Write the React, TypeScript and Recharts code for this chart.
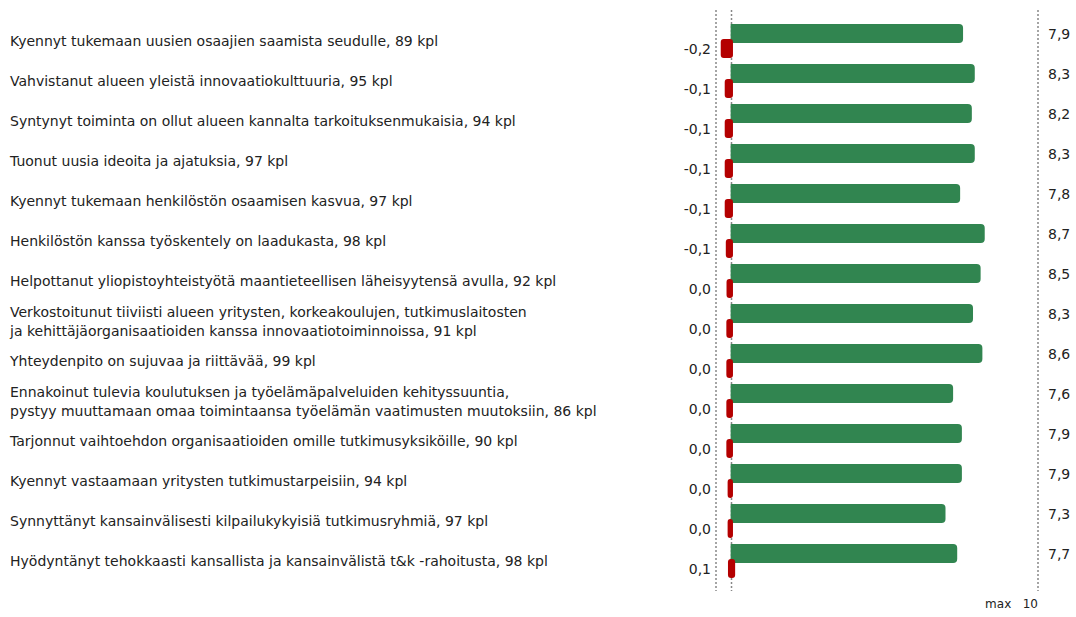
import { BarChart, Bar, XAxis, YAxis, CartesianGrid, ReferenceLine, LabelList } from 'recharts';

const statements = [
  'Kyennyt tukemaan uusien osaajien saamista seudulle, 89 kpl',
  'Vahvistanut alueen yleistä innovaatiokulttuuria, 95 kpl',
  'Syntynyt toiminta on ollut alueen kannalta tarkoituksenmukaisia, 94 kpl',
  'Tuonut uusia ideoita ja ajatuksia, 97 kpl',
  'Kyennyt tukemaan henkilöstön osaamisen kasvua, 97 kpl',
  'Henkilöstön kanssa työskentely on laadukasta, 98 kpl',
  'Helpottanut yliopistoyhteistyötä maantieteellisen läheisyytensä avulla, 92 kpl',
  'Verkostoitunut tiiviisti alueen yritysten, korkeakoulujen, tutkimuslaitosten\nja kehittäjäorganisaatioiden kanssa innovaatiotoiminnoissa, 91 kpl',
  'Yhteydenpito on sujuvaa ja riittävää, 99 kpl',
  'Ennakoinut tulevia koulutuksen ja työelämäpalveluiden kehityssuuntia,\npystyy muuttamaan omaa toimintaansa työelämän vaatimusten muutoksiin, 86 kpl',
  'Tarjonnut vaihtoehdon organisaatioiden omille tutkimusyksiköille, 90 kpl',
  'Kyennyt vastaamaan yritysten tutkimustarpeisiin, 94 kpl',
  'Synnyttänyt kansainvälisesti kilpailukykyisiä tutkimusryhmiä, 97 kpl',
  'Hyödyntänyt tehokkaasti kansallista ja kansainvälistä t&k -rahoitusta, 98 kpl',
];

const averages = [7.94, 8.34, 8.24, 8.34, 7.84, 8.68, 8.54, 8.28, 8.6, 7.6, 7.9, 7.9, 7.34, 7.74];
const changes = [-0.2, -0.09, -0.09, -0.09, -0.09, -0.06, -0.04, -0.045, -0.045, -0.045, -0.045, -0.01, -0.01, 0.06];

// dotted guide lines, in units of the average axis
const AVG_DOMAIN: [number, number] = [-0.5, 10.5];
const guides = [-0.5, 0.03, 10.5];

const data = statements.map((label, i) => ({ label, avg: averages[i], change: changes[i] }));

const W = 1076;
const H = 617;
const PLOT_LEFT = 716;
const PLOT_RIGHT = 1038;
const FONT = '"DejaVu Sans", sans-serif';
const TEXT = '#222';
const GREEN = '#318550';
const RED = '#b40000';

const fmt = (v: number) => {
  const r = Math.round(v * 10) / 10;
  return (r === 0 ? 0 : r).toFixed(1).replace('.', ',');
};

function StatementTick(props: any) {
  const { y, payload } = props;
  const lines = String(payload.value).split('\n');
  const lh = 19;
  const start = -((lines.length - 1) * lh) / 2;
  return (
    <text x={10} y={y} fill={TEXT} fontSize={14} fontFamily={FONT} textAnchor="start" dominantBaseline="central">
      {lines.map((l, i) => (
        <tspan key={i} x={10} dy={i === 0 ? start : lh}>{l}</tspan>
      ))}
    </text>
  );
}

function ChangeShape(props: any) {
  const { x, y, width, height } = props;
  const left = Math.min(x, x + width) - 2.5;
  const w = Math.abs(width) + 5;
  return <rect x={left} y={y} width={w} height={height} rx={3} ry={3} fill={RED} />;
}

const labelY = (p: any) => {
  const vb = p.viewBox ?? p;
  return (vb.y ?? p.y) + (vb.height ?? p.height) / 2;
};

function AvgLabel(props: any) {
  return (
    <text x={PLOT_RIGHT + 10} y={labelY(props)} fill={TEXT} fontSize={14} fontFamily={FONT} dominantBaseline="central">
      {fmt(Number(props.value))}
    </text>
  );
}

function ChangeLabel(props: any) {
  return (
    <text x={PLOT_LEFT - 5} y={labelY(props)} fill={TEXT} fontSize={14} fontFamily={FONT} textAnchor="end" dominantBaseline="central">
      {fmt(Number(props.value))}
    </text>
  );
}

function MaxLabel(props: any) {
  const vb = props.viewBox ?? {};
  return (
    <text x={vb.x} y={vb.y + vb.height + 17} fill={TEXT} fontSize={12} fontFamily={FONT} textAnchor="end">
      max{'\u00a0\u00a0\u00a0'}10
    </text>
  );
}

const guideX = ({ offset }: any) => {
  const left = offset?.left ?? PLOT_LEFT;
  const width = offset?.width ?? PLOT_RIGHT - PLOT_LEFT;
  const [d0, d1] = AVG_DOMAIN;
  return guides.map((g) => left + ((g - d0) / (d1 - d0)) * width);
};

export default function App() {
  return (
    <div style={{ position: 'absolute', left: 0, top: 0, width: W, height: H, background: '#fff' }}>
      <BarChart
        width={W}
        height={H}
        data={data}
        layout="vertical"
        margin={{ top: 10, right: W - PLOT_RIGHT, bottom: 26, left: 0 }}
        barSize={19}
        barGap={-4}
      >
        <CartesianGrid
          xAxisId="avg"
          horizontal={false}
          stroke="#888"
          strokeDasharray="2 2"
          strokeWidth={1.5}
          verticalCoordinatesGenerator={guideX}
        />
        <YAxis
          type="category"
          dataKey="label"
          width={PLOT_LEFT}
          axisLine={false}
          tickLine={false}
          interval={0}
          padding={{ top: 11, bottom: 10 }}
          tick={<StatementTick />}
        />
        <XAxis xAxisId="avg" type="number" domain={AVG_DOMAIN} hide />
        <XAxis xAxisId="chg" type="number" domain={[-0.4, 8.5]} hide />
        <ReferenceLine xAxisId="avg" x={10.5} stroke="none" label={<MaxLabel />} />
        <Bar xAxisId="avg" dataKey="avg" fill={GREEN} radius={[0, 4, 4, 0]} isAnimationActive={false}>
          <LabelList dataKey="avg" content={<AvgLabel />} />
        </Bar>
        <Bar xAxisId="chg" dataKey="change" fill={RED} shape={<ChangeShape />} isAnimationActive={false}>
          <LabelList dataKey="change" content={<ChangeLabel />} />
        </Bar>
      </BarChart>
    </div>
  );
}
